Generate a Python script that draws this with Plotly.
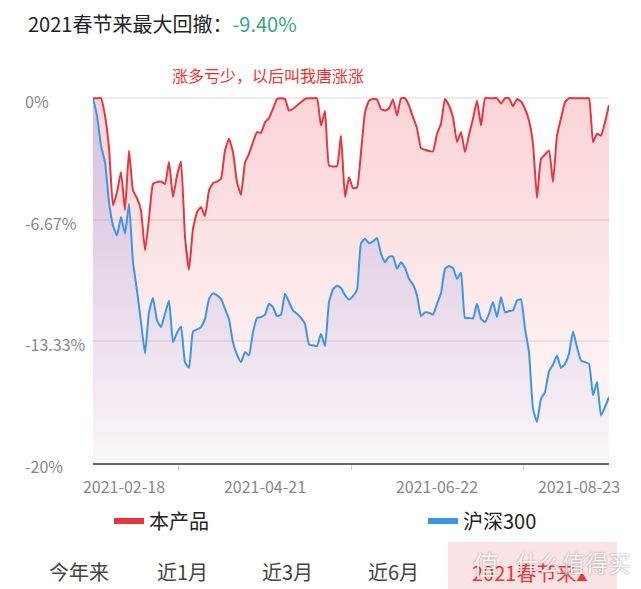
import plotly.graph_objects as go

# ---------------- data ----------------
day_index = list(range(130))

product = [
    0, 0, 0, -0.95, -2.74, -5.88, -5.15, -4.05, -6.15, -2.87,
    -5.06, -5.48, -6.15, -8.35, -6.6, -4.7, -4.6, -4.57, -4.7, -3.5,
    -5.42, -4.24, -3.47, -7.6, -9.4, -7.16, -6.25, -5.97, -6.47, -5.06,
    -4.66, -4.57, -4.42, -2.87, -2.23, -2.96, -4.6, -5.3, -3.54, -3.05,
    -2.41, -1.86, -1.9, -1.32, -1.1, -0.58, -0.04, 0, -0.04, -0.68,
    -0.58, -0.4, -0.22, -0.04, 0, 0, 0, -1.5, -0.7, -3.7,
    -3.74, -3.73, -2.05, -5.42, -4.33, -4.93, -4.9, -2.96, -0.77, -0.13,
    -0.04, -0.07, -0.6, -0.68, -0.55, -0.07, -0.95, 0, 0, -0.4,
    -1.04, -1.64, -2.74, -2.83, -2.9, -2.92, -1.95, -1.4, -0.04, -0.4,
    -1.04, -2.4, -1.85, -2.96, -2.0, -1.13, -0.13, -1.5, 0, 0,
    0, 0, -0.3, 0, 0, -0.44, -0.05, -0.18, -0.58, -1.22,
    -2.5, -5.48, -3.32, -3.09, -2.87, -4.6, -2.05, -1.1, -0.22, 0,
    0, 0, 0, 0, 0, -2.41, -1.95, -2.05, -1.32, -0.37,
]

hs300 = [
    0, -0.95, -2.6, -3.5, -5.7, -6.98, -7.52, -6.52, -7.43, -5.79,
    -8.99, -10.54, -12.27, -14.0, -11.73, -10.96, -12.18, -12.55, -11.82, -11.09,
    -13.37, -12.86, -12.51, -14.47, -14.78, -12.79, -12.68, -12.55, -12.1, -11.0,
    -10.7, -10.81, -11.0, -11.54, -12.1, -13.4, -14.06, -14.47, -13.92, -14.1,
    -12.82, -12.05, -12.0, -11.87, -11.27, -11.45, -11.95, -11.87, -10.72, -11.18,
    -11.63, -11.82, -12.04, -12.37, -13.5, -13.55, -13.59, -12.91, -13.59, -11.18,
    -10.48, -10.28, -10.41, -10.8, -11.03, -10.85, -10.5, -7.95, -7.71, -7.95,
    -7.85, -7.67, -8.53, -9.0, -8.68, -8.68, -9.35, -9.0, -9.3, -9.9,
    -10.21, -10.81, -11.95, -11.74, -11.76, -11.87, -11.27, -10.7, -9.35, -9.2,
    -9.32, -9.9, -9.57, -12.05, -12.05, -12.07, -11.27, -12.09, -12.27, -11.82,
    -11.18, -12.0, -10.9, -11.74, -11.67, -11.63, -11.09, -11.03, -12.64, -13.92,
    -17.02, -17.75, -16.47, -16.11, -14.98, -14.61, -14.1, -14.79, -14.56, -14.01,
    -12.79, -13.64, -14.39, -14.47, -14.56, -16.29, -15.56, -17.39, -16.93, -16.38,
]

series_names = ["本产品", "沪深300"]
x_tick_pos = [7.75, 43, 86, 121.5]
x_tick_text = ["2021-02-18", "2021-04-21", "2021-06-22", "2021-08-23"]
x_minor_pos = [21.25, 64.5, 107.5]
y_grid_vals = [0, -20 / 3, -40 / 3]
y_label_vals = [0, -20 / 3, -40 / 3, -20]
y_label_text = ["0%", "-6.67%", "-13.33%", "-20%"]
Y_MIN = -20
Y_MAX = 0.12

title_text = "2021春节来最大回撤："
max_drawdown_text = "-9.40%"
note_text = "涨多亏少，以后叫我唐涨涨"
tabs = ["今年来", "近1月", "近3月", "近6月"]
active_tab = "2021春节来"

# ---------------- layout helpers ----------------
W, H = 641, 589
ML, MR, MT, MB = 93, 32, 96, 126
PW, PH = W - ML - MR, H - MT - MB


def px(xp):
    return (xp - ML) / PW


def py(yp):
    return (H - MB - yp) / PH


RED = "#e8363f"
BLUE = "#3a97e8"
FONT = "Noto Sans CJK SC"

fig = go.Figure()

# red area
fig.add_trace(go.Scatter(x=day_index, y=[Y_MIN] * len(day_index), mode="lines",
                         line=dict(width=0), showlegend=False, hoverinfo="skip"))
fig.add_trace(go.Scatter(x=day_index, y=product, mode="lines",
                         line=dict(width=0, shape="spline", smoothing=0.4),
                         fill="tonexty",
                         fillgradient=dict(type="vertical",
                                           colorscale=[[0, "rgba(240,60,70,0.02)"],
                                                       [1, "rgba(240,60,70,0.22)"]],
                                           start=Y_MIN, stop=0),
                         showlegend=False, hoverinfo="skip"))
# blue area
fig.add_trace(go.Scatter(x=day_index, y=[Y_MIN] * len(day_index), mode="lines",
                         line=dict(width=0), showlegend=False, hoverinfo="skip"))
fig.add_trace(go.Scatter(x=day_index, y=hs300, mode="lines",
                         line=dict(width=0, shape="spline", smoothing=0.4),
                         fill="tonexty",
                         fillgradient=dict(type="vertical",
                                           colorscale=[[0, "rgba(160,165,235,0.05)"],
                                                       [1, "rgba(160,165,235,0.42)"]],
                                           start=Y_MIN, stop=0),
                         showlegend=False, hoverinfo="skip"))
# lines
fig.add_trace(go.Scatter(x=day_index, y=hs300, mode="lines", name=series_names[1],
                         line=dict(color=BLUE, width=2, shape="spline", smoothing=0.4),
                         showlegend=False))
fig.add_trace(go.Scatter(x=day_index, y=product, mode="lines", name=series_names[0],
                         line=dict(color=RED, width=2, shape="spline", smoothing=0.4),
                         showlegend=False))
# legend entries (one legend per entry so they can sit far apart)
fig.add_trace(go.Scatter(x=[None], y=[None], mode="lines", name=series_names[0],
                         line=dict(color=RED, width=6), legend="legend"))
fig.add_trace(go.Scatter(x=[None], y=[None], mode="lines", name=series_names[1],
                         line=dict(color=BLUE, width=6), legend="legend2"))

annotations = []
# title
annotations.append(dict(xref="paper", yref="paper", x=px(26), y=py(23.5),
                        xanchor="left", yanchor="middle", showarrow=False,
                        text=f"{title_text}<span style='color:#35a983'>{max_drawdown_text}</span>",
                        font=dict(family=FONT, size=20, color="#222222")))
annotations.append(dict(xref="paper", yref="paper", x=px(268), y=py(74.5),
                        xanchor="center", yanchor="middle", showarrow=False,
                        text=note_text, font=dict(family=FONT, size=16, color="#f22f2f")))
# y labels (left aligned)
for v, t in zip(y_label_vals, y_label_text):
    annotations.append(dict(xref="paper", yref="y", x=px(23), y=v, yshift=-3,
                            xanchor="left", yanchor="middle", showarrow=False,
                            text=t, font=dict(family=FONT, size=16, color="#888888")))
# tabs
tab_x = [78.5, 182.5, 287.5, 393]
for t, xp in zip(tabs, tab_x):
    annotations.append(dict(xref="paper", yref="paper", x=px(xp), y=py(571),
                            xanchor="center", yanchor="middle", showarrow=False,
                            text=t, font=dict(family=FONT, size=20, color="#444444")))
annotations.append(dict(xref="paper", yref="paper", x=px(529), y=py(572),
                        xanchor="center", yanchor="middle", showarrow=False,
                        text=f"{active_tab}<span style='font-size:11px'>▲</span>",
                        font=dict(family=FONT, size=20, color="#f03434")))
# watermark
annotations.append(dict(xref="paper", yref="paper", x=px(486), y=py(563),
                        xanchor="center", yanchor="middle", showarrow=False,
                        text="值", font=dict(family=FONT, size=26, color="rgba(255,255,255,0.92)",
                                            shadow="0px 0px 2px rgba(0,0,0,0.45)")))
annotations.append(dict(xref="paper", yref="paper", x=px(573), y=py(562),
                        xanchor="center", yanchor="middle", showarrow=False,
                        text="什么值得买", font=dict(family=FONT, size=23, color="rgba(255,255,255,0.92)",
                                                shadow="0px 0px 2px rgba(0,0,0,0.45)")))

legend_common = dict(orientation="h", yanchor="middle",
                     font=dict(family=FONT, size=20, color="#222222"),
                     bgcolor="rgba(0,0,0,0)")

fig.update_layout(
    width=W, height=H,
    margin=dict(l=ML, r=MR, t=MT, b=MB, pad=0),
    paper_bgcolor="white", plot_bgcolor="white",
    font=dict(family=FONT),
    showlegend=True,
    legend=dict(x=px(109), y=py(521), xanchor="left", **legend_common),
    legend2=dict(x=px(423), y=py(521), xanchor="left", **legend_common),
    annotations=annotations,
    shapes=[dict(type="rect", xref="paper", yref="paper",
                 x0=px(448), x1=px(617), y0=py(542), y1=py(592),
                 fillcolor="#fce3e6", line=dict(width=0), layer="below")],
    xaxis=dict(range=[0, len(day_index) - 1], showgrid=False, zeroline=False,
               showline=True, linecolor="#666666", linewidth=2,
               tickmode="array", tickvals=x_tick_pos, ticktext=x_tick_text,
               ticks="", ticklabelstandoff=9,
               tickfont=dict(family=FONT, size=16, color="#888888"),
               minor=dict(tickmode="array", tickvals=x_minor_pos, ticks="outside",
                          ticklen=5, tickcolor="#cccccc", tickwidth=1, showgrid=False)),
    yaxis=dict(range=[Y_MIN, Y_MAX], showgrid=True, gridcolor="#ececec", gridwidth=1.5,
               tickmode="array", tickvals=y_grid_vals, showticklabels=False,
               zeroline=False, showline=False, ticks=""),
)

fig.write_html("out.html")
